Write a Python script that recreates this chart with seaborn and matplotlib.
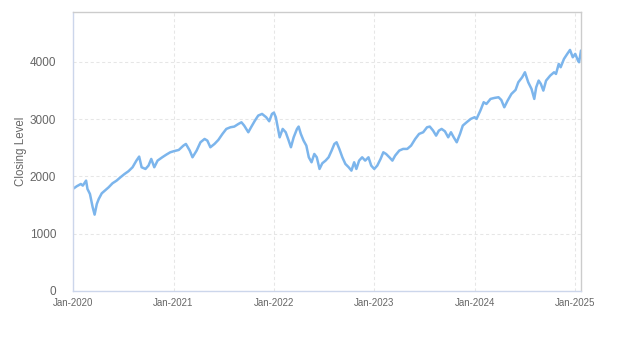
import matplotlib
matplotlib.use("Agg")
import matplotlib.pyplot as plt
import matplotlib.dates as mdates
import pandas as pd
import seaborn as sns

dates = [
    "2020-01-01", "2020-01-15", "2020-01-30", "2020-02-06", "2020-02-18", "2020-02-23",
    "2020-03-03", "2020-03-13", "2020-03-20", "2020-03-28", "2020-04-04", "2020-04-15",
    "2020-04-26", "2020-05-10", "2020-05-24", "2020-06-08", "2020-06-22", "2020-07-07",
    "2020-07-21", "2020-08-05", "2020-08-19", "2020-08-29", "2020-09-07", "2020-09-21",
    "2020-10-02", "2020-10-12", "2020-10-23", "2020-11-04", "2020-11-21", "2020-12-06",
    "2020-12-20", "2021-01-01",
    "2021-01-20", "2021-02-06", "2021-02-15", "2021-03-01", "2021-03-11", "2021-03-26",
    "2021-04-09", "2021-04-24", "2021-05-04", "2021-05-15", "2021-05-30", "2021-06-13",
    "2021-06-28", "2021-07-12", "2021-07-27", "2021-08-10", "2021-08-25", "2021-09-05",
    "2021-09-15", "2021-09-30", "2021-10-10", "2021-10-24", "2021-11-05", "2021-11-19",
    "2021-12-04", "2021-12-15", "2021-12-25", "2022-01-01",
    "2022-01-08", "2022-01-15", "2022-01-22", "2022-02-02", "2022-02-13", "2022-02-23",
    "2022-03-04", "2022-03-14", "2022-03-26", "2022-04-01", "2022-04-09", "2022-04-19",
    "2022-04-29", "2022-05-08", "2022-05-18", "2022-05-28", "2022-06-06", "2022-06-16",
    "2022-06-26", "2022-07-08", "2022-07-19", "2022-07-30", "2022-08-09", "2022-08-17",
    "2022-08-27", "2022-09-07", "2022-09-18", "2022-09-30", "2022-10-10", "2022-10-20",
    "2022-10-28", "2022-11-07", "2022-11-18", "2022-11-29", "2022-12-11", "2022-12-21",
    "2023-01-01",
    "2023-01-12", "2023-01-24", "2023-02-03", "2023-02-13", "2023-02-25", "2023-03-08",
    "2023-03-18", "2023-04-02", "2023-04-16", "2023-05-01", "2023-05-15", "2023-05-30",
    "2023-06-13", "2023-06-28", "2023-07-12", "2023-07-22", "2023-08-03", "2023-08-14",
    "2023-08-24", "2023-09-03", "2023-09-15", "2023-09-27", "2023-10-07", "2023-10-17",
    "2023-10-28", "2023-11-09", "2023-11-19", "2023-12-03", "2023-12-18", "2024-01-01",
    "2024-01-08", "2024-01-22", "2024-02-03", "2024-02-13", "2024-02-28", "2024-03-13",
    "2024-03-28", "2024-04-07", "2024-04-18", "2024-04-30", "2024-05-14", "2024-05-29",
    "2024-06-08", "2024-06-22", "2024-07-02", "2024-07-14", "2024-07-26", "2024-08-05",
    "2024-08-12", "2024-08-21", "2024-08-29", "2024-09-07", "2024-09-17", "2024-10-02",
    "2024-10-16", "2024-10-23", "2024-11-02", "2024-11-09", "2024-11-21", "2024-12-03",
    "2024-12-13", "2024-12-23", "2025-01-01", "2025-01-11", "2025-01-15", "2025-01-22",
]

closing = [
    1781, 1828, 1868, 1839, 1927, 1781,
    1694, 1461, 1333, 1519, 1606, 1705,
    1752, 1810, 1880, 1927, 1985, 2043,
    2090, 2160, 2276, 2346, 2160, 2130,
    2189, 2305, 2160, 2276, 2334, 2381,
    2421, 2439,
    2462, 2538, 2567, 2451, 2334, 2451,
    2596, 2654, 2625, 2509, 2567, 2637,
    2742, 2829, 2858, 2870, 2916, 2945,
    2887, 2771, 2858, 2974, 3062, 3091,
    3033, 2963, 3091, 3114,
    3033, 2858, 2683, 2829, 2771, 2637,
    2509, 2683, 2829, 2870, 2742, 2625,
    2538, 2334, 2247, 2392, 2334, 2130,
    2229, 2276, 2334, 2451, 2567, 2596,
    2480, 2334, 2218, 2160, 2101, 2247,
    2130, 2276, 2334, 2276, 2334, 2189,
    2130,
    2189, 2305, 2421, 2392, 2334, 2276,
    2363, 2451, 2480, 2480, 2538, 2654,
    2742, 2771, 2858, 2870, 2800, 2712,
    2800, 2829, 2788, 2683, 2771, 2683,
    2596, 2742, 2887, 2945, 3004, 3033,
    3004, 3149, 3295, 3265, 3353, 3370,
    3382, 3335, 3207, 3323, 3440, 3510,
    3644, 3731, 3818, 3644, 3527, 3353,
    3556, 3673, 3615, 3498, 3673, 3760,
    3818, 3789, 3964, 3906, 4051, 4139,
    4208, 4080, 4139, 4022, 3993, 4197,
]

year_ticks = ["2020-01-01", "2021-01-01", "2022-01-01", "2023-01-01", "2024-01-01", "2025-01-01"]
y_ticks = [0, 1000, 2000, 3000, 4000]

df = pd.DataFrame({"date": pd.to_datetime(dates), "close": closing})

sns.set_theme(style="white")
plt.rcParams["font.family"] = ["Liberation Sans", "DejaVu Sans"]

fig, ax = plt.subplots(figsize=(6.23, 3.5), dpi=100)
fig.subplots_adjust(left=0.117, right=0.9326, top=0.9657, bottom=0.1686)

sns.lineplot(data=df, x="date", y="close", ax=ax, color="#7cb5ec", linewidth=1.8)

ax.set_xlim(df["date"].iloc[0], df["date"].iloc[-1])
ax.set_ylim(0, 4870)
ax.set_xticks(pd.to_datetime(year_ticks))
ax.xaxis.set_major_formatter(mdates.DateFormatter("%b-%Y"))
ax.set_yticks(y_ticks)

ax.grid(True, color="#e6e6e6", linestyle=(0, (3, 2.5)), linewidth=0.75)
ax.set_axisbelow(True)

for side in ["top", "right"]:
    ax.spines[side].set_color("#cccccc")
    ax.spines[side].set_linewidth(1.0)
for side in ["left", "bottom"]:
    ax.spines[side].set_color("#ccd6eb")
    ax.spines[side].set_linewidth(1.0)

ax.tick_params(axis="y", length=0, pad=12, labelsize=8.5, labelcolor="#666666")
ax.tick_params(axis="x", length=0, pad=5, labelsize=7, labelcolor="#666666")

ax.set_xlabel("")
ax.set_ylabel("Closing Level", fontsize=8.3, color="#666666", labelpad=2)

fig.savefig("out.png", dpi=100)
